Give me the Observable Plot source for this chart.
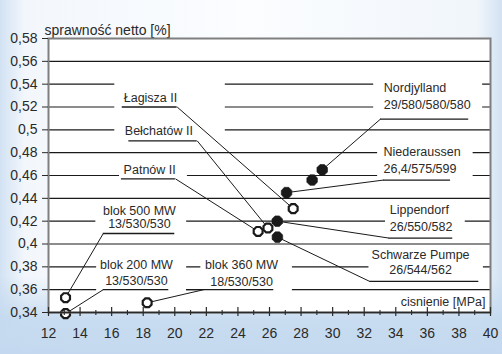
<!DOCTYPE html>
<html><head><meta charset="utf-8">
<script src="https://cdn.jsdelivr.net/npm/d3@7"></script>
<script src="https://cdn.jsdelivr.net/npm/@observablehq/plot@0.6"></script>
<style>
html,body{margin:0;padding:0;background:#fff;}
#chart svg{display:block;}
</style></head><body><div id="chart"></div>
<script>
// ---- data ----
const plants     = ["Łagisza II","Bełchatów II","Patnów II","Nordjylland","","Niederaussen","Lippendorf","Schwarze Pumpe","blok 500 MW","blok 200 MW","blok 360 MW"];
const params     = ["","","","29/580/580/580","","26,4/575/599","26/550/582","26/544/562","13/530/530","13/530/530","18/530/530"];
const pressure   = [27.5, 25.9, 25.28, 29.34, 28.7, 27.08, 26.49, 26.5, 13.08, 13.08, 18.25];
const efficiency = [0.431, 0.414, 0.411, 0.465, 0.456, 0.445, 0.420, 0.406, 0.353, 0.339, 0.3485];
const filled     = [false, false, false, true, true, true, true, true, false, false, false];

const yTicks      = [0.34,0.36,0.38,0.40,0.42,0.44,0.46,0.48,0.50,0.52,0.54,0.56,0.58];
const yTickLabels = ["0,34","0,36","0,38","0,4","0,42","0,44","0,46","0,48","0,5","0,52","0,54","0,56","0,58"];
const xTicks      = [12,14,16,18,20,22,24,26,28,30,32,34,36,38,40];
const xTickLabels = ["12","14","16","18","20","22","24","26","28","30","32","34","36","38","40"];
const xMinor      = [13,15,17,19,21,23,25,27,29,31,33,35,37,39];
const gridY       = [0.36,0.38,0.40,0.42,0.44,0.46,0.48,0.50,0.52,0.54,0.56];

const yTitle = "sprawność netto [%]";
const xTitle = "cisnienie [MPa]";

// ---- annotation layout (data units) ----
const labelX      = [18.46, 18.99, 18.41, 33.24, null, 33.22, 33.62, 35.57, 17.76, 17.57, 24.23];
const labelY1     = [0.5283, 0.4992, 0.4647, 0.5366, null, 0.4808, 0.4300, 0.3905, 0.4285, 0.3812, 0.3818];
const labelY2     = [null, null, null, 0.5219, null, 0.4656, 0.4145, 0.3771, 0.4172, 0.3676, 0.3667];
const labelAnchor = ["middle","middle","middle","start",null,"start","start","middle","middle","middle","middle"];
const ulX1        = [16.67, 17.09, 16.62, 33.03, null, 33.22, 33.56, 32.35, 15.47, 15.47, 20.74];
const ulX2        = [20.15, 21.42, 20.04, 38.62, null, 37.47, 37.61, 39.26, 20.00, 19.62, 26.27];
const ulY         = [0.520, 0.4904, 0.4571, 0.5094, null, 0.456, 0.4052, 0.3672, 0.4092, 0.360, 0.360];
const leadX       = [20.15, 21.42, 20.04, 33.03, null, 33.22, 33.56, 32.35, 15.47, 15.47, 21.84];

const boxX1 = [16.2, 16.5, 32.6, 32.85, 33.35, 32.3, 15.0, 15.05, 21.65];
const boxX2 = [23.2, 20.8, 39.5, 38.9, 38.4, 39.55, 20.75, 20.75, 27.45];
const boxY1 = [0.4855, 0.452, 0.513, 0.4575, 0.4085, 0.3655, 0.4065, 0.3575, 0.3575];
const boxY2 = [0.551, 0.474, 0.551, 0.491, 0.4375, 0.3975, 0.4375, 0.392, 0.392];

// ---- derived tables ----
const points = plants.map((name, i) => ({name, p: pressure[i], e: efficiency[i], filled: filled[i]}));
const boxes = boxX1.map((x1, i) => ({x1, x2: boxX2[i], y1: boxY1[i], y2: boxY2[i]}));
const labeled = plants.map((n, i) => i).filter(i => labelX[i] != null);
const underlines = labeled.map(i => ({x1: ulX1[i], x2: ulX2[i], y: ulY[i]}));
const leaders = labeled.map(i => ({x1: leadX[i], y1: ulY[i], x2: pressure[i], y2: efficiency[i]}));
const texts = [];
labeled.forEach(i => {
  texts.push({t: plants[i], x: labelX[i], y: labelY1[i], a: labelAnchor[i]});
  if (params[i]) texts.push({t: params[i], x: labelX[i], y: labelY2[i], a: labelAnchor[i]});
});
const yLab = new Map(yTicks.map((t, i) => [t, yTickLabels[i]]));
const xLab = new Map(xTicks.map((t, i) => [t, xTickLabels[i]]));

// octagon symbol
const octagon = {
  draw(ctx, size) {
    const r = Math.sqrt(size / Math.PI) * 1.04;
    for (let k = 0; k < 8; k++) {
      const a = (k + 0.5) * Math.PI / 4;
      const px = r * Math.cos(a), py = r * Math.sin(a);
      if (k === 0) ctx.moveTo(px, py); else ctx.lineTo(px, py);
    }
    ctx.closePath();
  }
};

const ink = "#1a1a1a";
const txt = "#2a2a2a";

const chart = Plot.plot({
  width: 502, height: 354,
  marginLeft: 48, marginRight: 12, marginTop: 38, marginBottom: 42,
  x: {domain: [12, 40]},
  y: {domain: [0.34, 0.58]},
  style: {
    fontFamily: "'Liberation Sans', Arial, sans-serif",
    fontSize: "14px",
    color: txt,
    overflow: "visible",
    background: "linear-gradient(to bottom, rgba(196,217,239,0) 0%, rgba(196,217,239,0) 78%, rgba(196,217,239,0.9) 90%, rgba(196,217,239,1) 100%), linear-gradient(to right, #d2e2f3 0%, #f3f7fc 5%, #fbfdff 50%, #f1f6fb 95%, #d2e2f3 100%)"
  },
  marks: [
    Plot.frame({fill: "white"}),
    Plot.ruleY(gridY, {stroke: ink, strokeWidth: 1.2}),
    Plot.rect(boxes, {x1: "x1", x2: "x2", y1: "y1", y2: "y2", fill: "white"}),
    Plot.ruleY(underlines, {y: "y", x1: "x1", x2: "x2", stroke: ink, strokeWidth: 1.3}),
    Plot.link(leaders, {x1: "x1", y1: "y1", x2: "x2", y2: "y2", stroke: ink, strokeWidth: 1}),
    Plot.text(texts.filter(d => d.a === "middle"), {x: "x", y: "y", text: "t", textAnchor: "middle", fontSize: 12.5, fill: txt}),
    Plot.text(texts.filter(d => d.a === "start"), {x: "x", y: "y", text: "t", textAnchor: "start", fontSize: 12.5, fill: txt}),
    Plot.text([xTitle], {x: 39.68, y: 0.3488, text: d => d, textAnchor: "end", fontSize: 12.5, fill: txt}),
    Plot.text([yTitle], {frameAnchor: "top-left", text: d => d, dx: -4, dy: -13, textAnchor: "start", fontSize: 14, fill: txt}),
    Plot.dot(points.filter(d => !d.filled), {x: "p", y: "e", symbol: octagon, r: 4.6, fill: "white", stroke: ink, strokeWidth: 2.2}),
    Plot.dot(points.filter(d => d.filled), {x: "p", y: "e", symbol: octagon, r: 5.5, fill: ink, stroke: ink, strokeWidth: 0.6}),
    Plot.frame({stroke: "#7f7f7f", strokeWidth: 2}),
    Plot.ruleY([0.34], {stroke: "#2a2a2a", strokeWidth: 1.5}),
    Plot.ruleX(xTicks, {y1: 0.34, y2: 0.34, insetTop: -5, insetBottom: -4, stroke: "#2a2a2a", strokeWidth: 1.2}),
    Plot.ruleX(xMinor, {y1: 0.34, y2: 0.34, insetTop: -2, insetBottom: -3, stroke: "#2a2a2a", strokeWidth: 1.1}),
    Plot.axisX(xTicks, {tickSize: 0, tickPadding: 16, tickFormat: d => xLab.get(d), label: null, fontSize: 14}),
    Plot.axisY(yTicks, {tickSize: 6, tickPadding: 5, tickFormat: d => yLab.get(d), label: null, fontSize: 14})
  ]
});
document.getElementById("chart").appendChild(chart);
</script>
</body></html>
